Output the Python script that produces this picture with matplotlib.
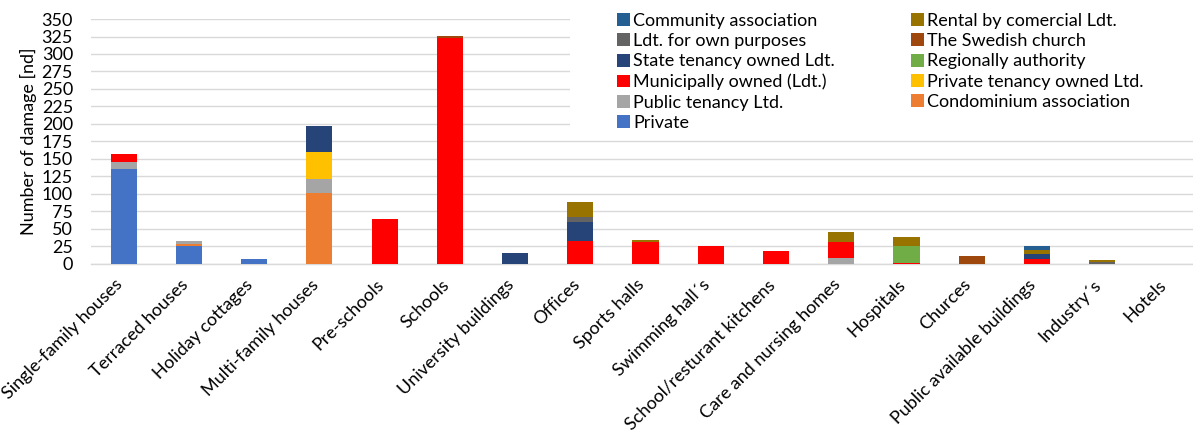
import matplotlib
matplotlib.use("Agg")
import matplotlib.pyplot as plt
from matplotlib.patches import Rectangle
from matplotlib.transforms import ScaledTranslation
import numpy as np

plt.rcParams['font.family'] = ['Lato', 'DejaVu Sans']

categories = ["Single-family houses", "Terraced houses", "Holiday cottages",
              "Multi-family houses", "Pre-schools", "Schools", "University buildings",
              "Offices", "Sports halls", "Swimming hall´s", "School/resturant kitchens",
              "Care and nursing homes", "Hospitals", "Churces",
              "Public available buildings", "Industry´s", "Hotels"]

# series in stacking order (bottom -> top)
private            = [136, 26, 7, 0,   0, 0,   0,  0,  0,  0,  0,  0,  0,  0, 0, 0, 0]
condominium        = [0,   3,  0, 101, 0, 0,   0,  0,  0,  0,  0,  0,  0,  0, 0, 0, 0]
public_tenancy     = [10,  4,  0, 20,  0, 0,   0,  0,  0,  0,  0,  8,  0,  0, 0, 0, 0]
private_tenancy    = [0,   0,  0, 39,  0, 0,   0,  0,  0,  0,  0,  0,  0,  0, 0, 0, 0]
municipally        = [11,  0,  0, 0,  64, 323, 0, 33, 31, 26, 19, 24,  2,  0, 7, 0, 0]
regionally         = [0,   0,  0, 0,   0, 0,   0,  0,  0,  0,  0,  0, 24,  0, 0, 0, 0]
state_tenancy      = [0,   0,  0, 37,  0, 0,  16, 27,  0,  0,  0,  0,  0,  0, 7, 0, 0]
swedish_church     = [0,   0,  0, 0,   0, 3,   0,  0,  0,  0,  0,  0,  0, 11, 0, 0, 0]
ldt_own            = [0,   0,  0, 0,   0, 0,   0,  7,  0,  0,  0,  0,  0,  0, 0, 3, 0]
rental_commercial  = [0,   0,  0, 0,   0, 0,   0, 21,  3,  0,  0, 14, 12,  0, 6, 2, 0]
community          = [0,   0,  0, 0,   0, 0,   0,  0,  0,  0,  0,  0,  0,  0, 5, 0, 0]

series = [
    ("Private", private, "#4472C4"),
    ("Condominium association", condominium, "#ED7D31"),
    ("Public tenancy Ltd.", public_tenancy, "#A5A5A5"),
    ("Private tenancy owned Ltd.", private_tenancy, "#FFC000"),
    ("Municipally owned (Ldt.)", municipally, "#FF0000"),
    ("Regionally authority", regionally, "#70AD47"),
    ("State tenancy owned Ldt.", state_tenancy, "#264478"),
    ("The Swedish church", swedish_church, "#9E480E"),
    ("Ldt. for own purposes", ldt_own, "#636363"),
    ("Rental by comercial Ldt.", rental_commercial, "#997300"),
    ("Community association", community, "#255E91"),
]

fig = plt.figure(figsize=(11.93, 4.32), dpi=100)
ax = fig.add_axes([0.0763, 0.389, 0.9296, 0.567])

x = np.arange(len(categories))
bottom = np.zeros(len(categories))
handles = {}
for name, vals, col in series:
    v = np.array(vals, dtype=float)
    h = ax.bar(x, v, width=0.4, bottom=bottom, color=col, label=name, zorder=3)
    handles[name] = h
    bottom += v

ax.set_xlim(-0.5, len(categories) - 0.5)
ax.set_ylim(0, 350)
ax.set_yticks(np.arange(0, 351, 25))
ax.yaxis.grid(True, color="#D9D9D9", linewidth=1.0, zorder=0)
ax.set_axisbelow(True)
for s in ["top", "right", "left"]:
    ax.spines[s].set_visible(False)
ax.spines["bottom"].set_color("#D9D9D9")
ax.spines["bottom"].set_linewidth(1.0)
ax.tick_params(axis="both", length=0, labelsize=13, colors="#000000")
ax.tick_params(axis="y", pad=13)
ax.set_xticks(x)
ax.set_xticklabels(categories, rotation=45, ha="right", va="top",
                   rotation_mode="anchor", fontsize=13)
ax.tick_params(axis="x", pad=9)
offset = ScaledTranslation(-9 / 100, 0, fig.dpi_scale_trans)
for lab in ax.get_xticklabels():
    lab.set_transform(lab.get_transform() + offset)

ax.set_ylabel("Number of damage [nd]", fontsize=13)
ax.yaxis.set_label_coords(-0.0487, 0.5)

# white background behind legend (covers gridlines)
rect = Rectangle((0.432, 0.535), 0.7, 0.6, transform=ax.transAxes,
                 facecolor="white", edgecolor="none", zorder=1, clip_on=False)
ax.add_patch(rect)

order = ["Community association", "Ldt. for own purposes", "State tenancy owned Ldt.",
         "Municipally owned (Ldt.)", "Public tenancy Ltd.", "Private",
         "Rental by comercial Ldt.", "The Swedish church", "Regionally authority",
         "Private tenancy owned Ltd.", "Condominium association"]
leg = ax.legend([handles[n] for n in order], order, ncol=2,
                loc="upper left", bbox_to_anchor=(0.468, 1.055),
                frameon=False, fontsize=13, handlelength=0.72, handleheight=0.72,
                handletextpad=0.17, labelspacing=0.24, columnspacing=4.2,
                borderaxespad=0)
leg.set_zorder(5)

fig.savefig("out.png", dpi=100)
